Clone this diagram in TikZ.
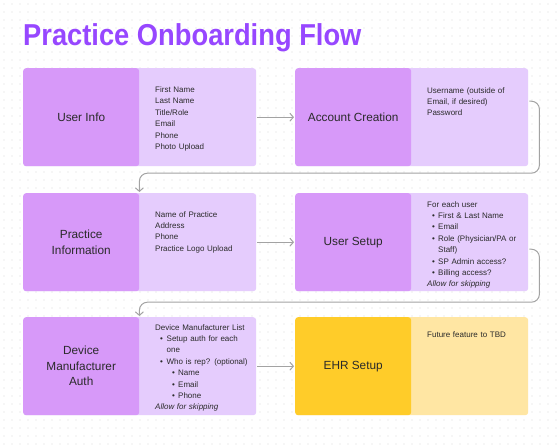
\documentclass[tikz,border=0pt]{standalone}
\usepackage{fontspec}
\setmainfont{Liberation Sans}
\usetikzlibrary{arrows.meta,calc}
\definecolor{pur}{HTML}{D799F9}
\definecolor{lav}{HTML}{E5CCFD}
\definecolor{yel}{HTML}{FFCC29}
\definecolor{lyel}{HTML}{FFE6A3}
\definecolor{titlec}{HTML}{9747FF}
\definecolor{connc}{HTML}{A3A3A3}
\definecolor{dotc}{HTML}{DADADA}
\definecolor{txt}{HTML}{2A2A2A}
\newcommand\mybul{\hspace*{5pt}\makebox[6pt][l]{\textbullet}}
\newcommand\mycont{\hspace*{11pt}}
\newcommand\mysubbul{\hspace*{17pt}\makebox[6pt][l]{\textbullet}}
\begin{document}
\begin{tikzpicture}[x=1pt,y=-1pt,
  bgbox/.style={fill=lav, rounded corners=3pt, minimum width=233pt, minimum height=98pt, inner sep=0pt, anchor=north west, draw=none},
  namebox/.style={fill=pur, rounded corners=3pt, minimum width=116pt, minimum height=98pt, inner sep=0pt, anchor=north west, align=center, text=txt, font=\fontsize{11.8}{15.5}\selectfont},
  dettext/.style={anchor=north west, inner sep=0pt, text width=118pt, align=left, text=txt, font=\fontsize{8}{11.4}\selectfont},
  conn/.style={draw=connc, line width=1pt, -{Straight Barb[length=3.5pt,width=8pt]}, shorten <=1pt, shorten >=1pt},
  loopconn/.style={conn, rounded corners=8pt}
]
\useasboundingbox (0,0) rectangle (557,445);
\fill[white] (0,0) rectangle (557,445);
\foreach \x in {4,12,...,556} \foreach \y in {4,12,...,444} \fill[dotc] (\x,\y) circle (0.55pt);

\node[anchor=base west, inner sep=0pt, text=titlec, font=\fontsize{28}{32}\selectfont\bfseries] (title) at (23,45.5) {\scalebox{0.975}[1.08]{Practice Onboarding Flow}};

% Row 1
\node[bgbox] (uibg) at (23,68) {};
\node[namebox] (ui) at (23,68) {User Info};
\node[dettext] (uit) at (155,86.5) {First Name\\Last Name\\Title/Role\\Email\\Phone\\Photo Upload};

\node[bgbox] (acbg) at (295,68) {};
\node[namebox] (ac) at (295,68) {Account Creation};
\node[dettext, text width=100pt] (act) at (427,87) {Username (outside of\\Email, if desired)\\Password};

% Row 2
\node[bgbox] (pibg) at (23,193) {};
\node[namebox] (pi) at (23,193) {Practice\\Information};
\node[dettext] (pit) at (155,211) {Name of Practice\\Address\\Phone\\Practice Logo Upload};

\node[bgbox] (usbg) at (295,193) {};
\node[namebox] (us) at (295,193) {User Setup};
\node[dettext, text width=100pt] (ust) at (427,201) {For each user\\\mybul First \& Last Name\\\mybul Email\\\mybul Role (Physician/PA or\\\mycont Staff)\\\mybul SP Admin access?\\\mybul Billing access?\\\textit{Allow for skipping}};

% Row 3
\node[bgbox] (dmbg) at (23,317) {};
\node[namebox] (dm) at (23,317) {Device\\Manufacturer\\Auth};
\node[dettext] (dmt) at (155,324) {Device Manufacturer List\\\hspace*{5pt}\makebox[6.5pt][l]{\textbullet}Setup auth for each\\\hspace*{11.5pt}one\\\hspace*{5pt}\makebox[6.5pt][l]{\textbullet}Who is rep? (optional)\\\mysubbul Name\\\mysubbul Email\\\mysubbul Phone\\\textit{Allow for skipping}};

\node[bgbox, fill=lyel] (ehbg) at (295,317) {};
\node[namebox, fill=yel] (eh) at (295,317) {EHR Setup};
\node[dettext] (eht) at (427,332) {Future feature to TBD};

% Connectors
\draw[conn] (uibg.east) -- (acbg.west);
\draw[loopconn] ([yshift=16pt]acbg.east) -- ++(11,0) -- ++(0,72) -| (pi.north east);
\draw[conn] (pibg.east) -- (usbg.west);
\draw[loopconn] ([yshift=-7pt]usbg.east) -- ++(11,0) -- ++(0,53) -| (dm.north east);
\draw[conn] (dmbg.east) -- (ehbg.west);
\end{tikzpicture}
\end{document}
